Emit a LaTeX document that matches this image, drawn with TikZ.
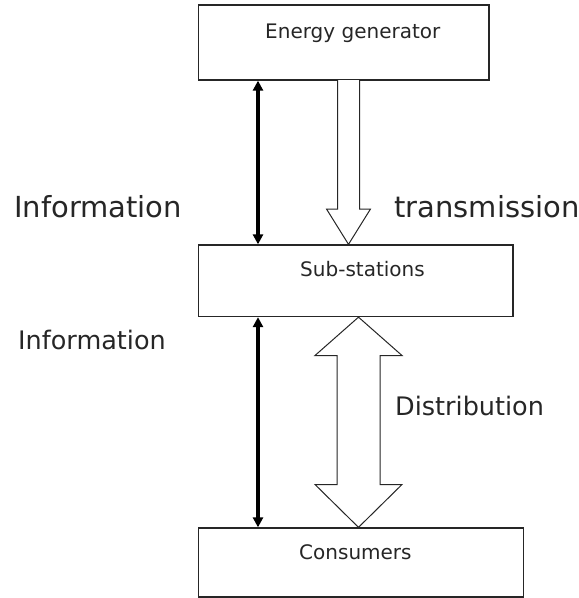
\documentclass[tikz,border=0pt]{standalone}
\usepackage{fontspec}
\setmainfont{DejaVu Sans}
\usetikzlibrary{arrows.meta}

\begin{document}
\begin{tikzpicture}[x=1pt,y=-1pt,
  box/.style={draw=black!85,line width=1.3pt,rectangle,inner sep=0pt},
  boxtext/.style={anchor=base west,inner sep=0pt,text=black!85,font=\fontsize{20}{24}\selectfont},
  bigtext/.style={anchor=base west,inner sep=0pt,text=black!85,font=\fontsize{29}{34}\selectfont},
  midtext/.style={anchor=base west,inner sep=0pt,text=black!85,font=\fontsize{25.5}{30}\selectfont},
  infoarrow/.style={line width=3.2pt,{Triangle[width=10pt,length=10pt]}-{Triangle[width=10pt,length=10pt]}},
  blockarrow/.style={draw=black!85,line width=1pt,fill=white,line join=miter}]
  \useasboundingbox (0,0) rectangle (579,598);
  % boxes
  \node[box,minimum width=290.5pt,minimum height=75pt] (gen) at (343.75,42.5) {};
  \node[box,minimum width=314.5pt,minimum height=71.5pt] (sub) at (355.75,280.75) {};
  \node[box,minimum width=325pt,minimum height=69pt] (con) at (361,562.5) {};
  \node[boxtext] (gentext) at (265,38.3) {Energy generator};
  \node[boxtext] (subtext) at (300,276.7) {Sub-stations};
  \node[boxtext] (context) at (299,559.3) {Consumers};
  % information lines
  \coordinate (ix) at (258,0);
  \draw[infoarrow] (gen.south -| ix) -- (sub.north -| ix);
  \draw[infoarrow] (sub.south -| ix) -- (con.north -| ix);
  % transmission and distribution
  \coordinate (tx) at (348.5,0);
  \coordinate (dx) at (358.5,0);
  \draw[blockarrow] (337.5,80) -- (337.5,209) -- (326.5,209) -- (sub.north -| tx)
    -- (370.5,209) -- (359.5,209) -- (359.5,80);
  \draw[blockarrow] (sub.south -| dx) -- (402,355.5) -- (380,355.5) -- (380,484.5)
    -- (402,484.5) -- (con.north -| dx) -- (315,484.5) -- (337,484.5)
    -- (337,355.5) -- (315,355.5) -- cycle;
  % labels
  \node[bigtext] (info1) at (14,217.5) {Information};
  \node[bigtext] (trans) at (394,217.5) {transmission};
  \node[midtext] (info2) at (18,349) {Information};
  \node[midtext] (distr) at (395,415) {Distribution};
\end{tikzpicture}
\end{document}
